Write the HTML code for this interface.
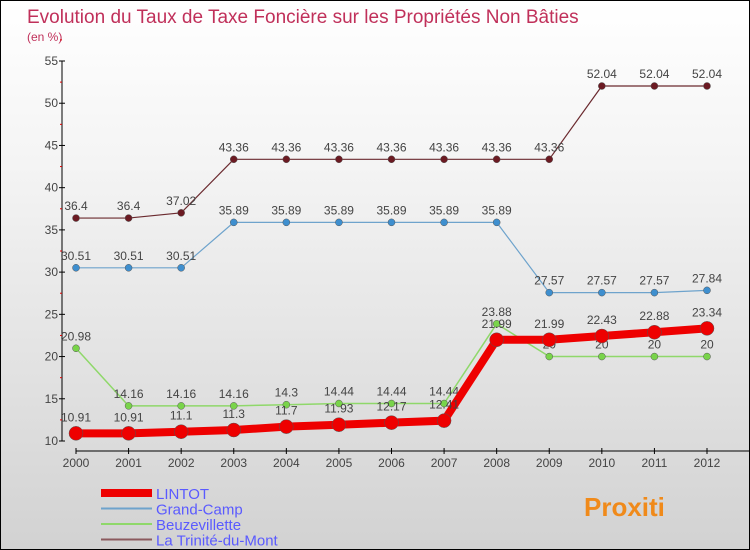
<!DOCTYPE html>
<html><head><meta charset="utf-8"><style>
body{margin:0}
#c{width:748px;height:548px;border:1px solid #000;background:linear-gradient(#ffffff,#f4f4f4 30%,#d2d2d2);position:relative;overflow:hidden;font-family:"Liberation Sans",sans-serif}
text{font-family:"Liberation Sans",sans-serif}
</style></head><body>
<div id="c">
<svg id="s" width="748" height="548">
<text x="26" y="22" font-size="19" fill="#c0305a">Evolution du Taux de Taxe Foncière sur les Propriétés Non Bâties</text>
<text x="26" y="40" font-size="12" fill="#c0305a">(en %)</text>
<g id="g"></g>
</svg>
</div>
<script>
const years=[2000,2001,2002,2003,2004,2005,2006,2007,2008,2009,2010,2011,2012];
const lintot=[10.91,10.91,11.1,11.3,11.7,11.93,12.17,12.41,21.99,21.99,22.43,22.88,23.34];
const grandCamp=[30.51,30.51,30.51,35.89,35.89,35.89,35.89,35.89,35.89,27.57,27.57,27.57,27.84];
const beuz=[20.98,14.16,14.16,14.16,14.3,14.44,14.44,14.44,23.88,20,20,20,20];
const trinite=[36.4,36.4,37.02,43.36,43.36,43.36,43.36,43.36,43.36,43.36,52.04,52.04,52.04];
const yTicks=[10,15,20,25,30,35,40,45,50,55];
const names=["LINTOT","Grand-Camp","Beuzevillette","La Trinité-du-Mont"];
const NS="http://www.w3.org/2000/svg",g=document.getElementById('g');
const X=i=>75+i*(706-75)/12, Y=v=>440-(v-10)*(380/45);
function el(t,a,p){const e=document.createElementNS(NS,t);for(const k in a)e.setAttribute(k,a[k]);(p||g).appendChild(e);return e;}
let e=el('line',{x1:61,y1:Y(55),x2:61,y2:Y(10),stroke:'#000'});

e=el('line',{x1:75,y1:450,x2:748,y2:450,stroke:'#000'});

yTicks.forEach(v=>{el('line',{x1:58,y1:Y(v),x2:64,y2:Y(v),stroke:'#000'});
 el('line',{x1:59,y1:Y(v+2.5),x2:61,y2:Y(v+2.5),stroke:'#d00'});
 e=el('text',{x:57,y:Y(v)+4,'text-anchor':'end','font-size':12,fill:'#444'});e.textContent=v;
 });
years.forEach((y,i)=>{el('line',{x1:X(i),y1:447,x2:X(i),y2:453,stroke:'#000'});
 e=el('text',{x:X(i),y:466,'text-anchor':'middle','font-size':12,fill:'#444'});e.textContent=y;
 });
function series(d,col,w,r,name,dot){
 const pl=el('polyline',{points:d.map((v,i)=>X(i)+','+Y(v)).join(' '),fill:'none',stroke:col,'stroke-width':w});
 
 d.forEach((v,i)=>{const c=el('circle',{cx:X(i),cy:Y(v),r:r,fill:dot,stroke:'#555','stroke-width':0.5});
  
  const t=el('text',{x:X(i),y:Y(v)-8-(r>5?4:0),'text-anchor':'middle','font-size':12,fill:'#444'});t.textContent=v;
  });
}
series(trinite,'#6b2a2f',1.2,3.5,'trinite','#6b1a22');
series(grandCamp,'#6ea3cc',1.2,3.5,'grand-camp','#3e8fcf');
series(beuz,'#8fd86a',1.5,3.5,'beuzevillette','#79d44a');
series(lintot,'#ee0000',8,7,'lintot','#ee0000');
const cols=['#ee0000','#6ea3cc','#8fd86a','#8b5a5e'],ws=[8,2,2,2];
names.forEach((n,i)=>{const y=492+i*15.5;
 e=el('line',{x1:100,y1:y,x2:151,y2:y,stroke:cols[i],'stroke-width':ws[i]});
 
 e=el('text',{x:155,y:y+6,'font-size':15,fill:'#5a5aff'});e.textContent=n;
 });
e=el('text',{x:583,y:515,'font-size':26,'font-weight':'bold',fill:'#f08a1a'});e.textContent='Proxiti';

</script>
</body></html>
